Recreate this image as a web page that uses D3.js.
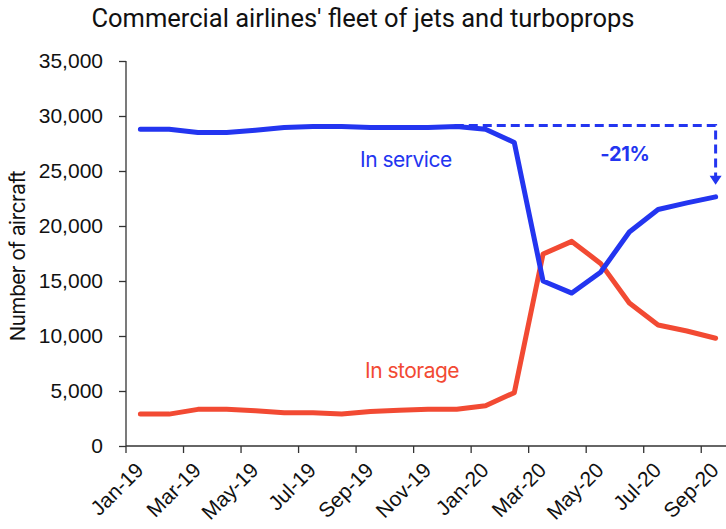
<!DOCTYPE html>
<html>
<head>
<meta charset="utf-8">
<script src="https://cdn.jsdelivr.net/npm/d3@7"></script>
<style>
  body { margin: 0; background: #fff; }
  svg { display: block; }
</style>
</head>
<body>
<div id="chart"></div>
<script>
// meses del eje x
var months = ["Jan-19","Feb-19","Mar-19","Apr-19","May-19","Jun-19","Jul-19","Aug-19","Sep-19","Oct-19","Nov-19","Dec-19",
              "Jan-20","Feb-20","Mar-20","Apr-20","May-20","Jun-20","Jul-20","Aug-20","Sep-20"];

// aviones en servicio
var inService = [28800,28800,28500,28500,28700,28950,29050,29050,28950,28950,28950,29050,
                 28800,27600,15000,13900,15800,19450,21500,22100,22650];

// aviones almacenados
var inStorage = [2900,2900,3330,3330,3200,3030,3030,2900,3130,3250,3330,3350,
                 3650,4850,17450,18600,16600,13000,11000,10450,9800];

var yTicks = [0,5000,10000,15000,20000,25000,30000,35000];

var width = 726, height = 529;
var blue = "#2335f0", red = "#f24a33";
var tickFont = "'Liberation Sans', Arial, sans-serif";

var svg = d3.select("#chart").append("svg")
    .attr("width", width)
    .attr("height", height);

// escalas
var x = d3.scaleBand().domain(months).range([126, 730]).padding(0);
var y = d3.scaleLinear().domain([0, 35000]).range([446, 61]);
var cx = d => x(d) + x.bandwidth() / 2;

// titulo
svg.append("text")
    .attr("x", 363)
    .attr("y", 27)
    .attr("text-anchor", "middle")
    .style("font-family", "Roboto, sans-serif")
    .style("font-size", "25.5px")
    .style("fill", "#111")
    .text("Commercial airlines' fleet of jets and turboprops");

// eje y
var yAxis = svg.append("g")
    .attr("transform", "translate(126,0)")
    .call(d3.axisLeft(y).tickValues(yTicks).tickSize(7).tickPadding(16).tickFormat(d3.format(",")));
yAxis.selectAll("text")
    .style("font-family", tickFont)
    .style("font-size", "21px")
    .style("fill", "#111");
yAxis.selectAll("line, path").attr("stroke", "#333").attr("stroke-width", 1.3);
yAxis.select(".domain").attr("d", "M0," + y(35000) + "V" + y(0));

svg.append("text")
    .attr("transform", "translate(25,256) rotate(-90)")
    .attr("text-anchor", "middle")
    .style("font-family", "Inter, sans-serif")
    .style("font-size", "20.5px")
    .style("letter-spacing", "-0.4px")
    .style("fill", "#111")
    .text("Number of aircraft");

// eje x: marcas cada dos meses en los bordes de categoria
var xAxis = svg.append("g");
xAxis.append("line")
    .attr("x1", 126).attr("x2", 730)
    .attr("y1", y(0)).attr("y2", y(0))
    .attr("stroke", "#333").attr("stroke-width", 1.3);
months.forEach(function (m, i) {
    if (i % 2 !== 0) return;
    xAxis.append("line")
        .attr("x1", x(m)).attr("x2", x(m))
        .attr("y1", y(0)).attr("y2", y(0) + 7)
        .attr("stroke", "#333").attr("stroke-width", 1.3);
    xAxis.append("text")
        .attr("transform", "translate(" + (cx(m) - 6) + "," + (y(0) + 15) + ") rotate(-45)")
        .attr("text-anchor", "end")
        .attr("dy", "0.7em")
        .style("font-family", tickFont)
        .style("font-size", "21px")
        .style("fill", "#111")
        .text(m);
});

// lineas
var line = d3.line().x((d, i) => cx(months[i])).y(d => y(d));

svg.append("path")
    .datum(inStorage)
    .attr("d", line)
    .attr("fill", "none")
    .attr("stroke", red)
    .attr("stroke-width", 5)
    .attr("stroke-linejoin", "round")
    .attr("stroke-linecap", "round");

svg.append("path")
    .datum(inService)
    .attr("d", line)
    .attr("fill", "none")
    .attr("stroke", blue)
    .attr("stroke-width", 5)
    .attr("stroke-linejoin", "round")
    .attr("stroke-linecap", "round");

// flecha discontinua de la caida
var topY = y(d3.max(inService)) - 1;
var endX = cx(months[months.length - 1]);
var arrowEnd = y(inService[inService.length - 1]) - 12;
svg.append("path")
    .attr("d", "M" + (cx("Dec-19") - 2) + "," + topY + "H" + endX + "V" + (arrowEnd - 8))
    .attr("fill", "none")
    .attr("stroke", blue)
    .attr("stroke-width", 3)
    .attr("stroke-dasharray", "9,5");
svg.append("path")
    .attr("d", "M" + (endX - 6) + "," + (arrowEnd - 9) + "L" + (endX + 6) + "," + (arrowEnd - 9) + "L" + endX + "," + arrowEnd + "Z")
    .attr("fill", blue);

svg.append("text")
    .attr("x", 625)
    .attr("y", 161)
    .attr("text-anchor", "middle")
    .style("font-family", "Inter, sans-serif")
    .style("font-weight", "bold")
    .style("font-size", "20px")
    .style("letter-spacing", "-0.3px")
    .style("fill", blue)
    .text("-21%");

// etiquetas de series
svg.append("text")
    .attr("x", 360)
    .attr("y", 167)
    .style("font-family", "Inter, sans-serif")
    .style("font-size", "21px")
    .style("letter-spacing", "-0.5px")
    .style("fill", blue)
    .text("In service");

svg.append("text")
    .attr("x", 365)
    .attr("y", 378)
    .style("font-family", "Inter, sans-serif")
    .style("font-size", "21px")
    .style("letter-spacing", "-0.5px")
    .style("fill", red)
    .text("In storage");
</script>
</body>
</html>
